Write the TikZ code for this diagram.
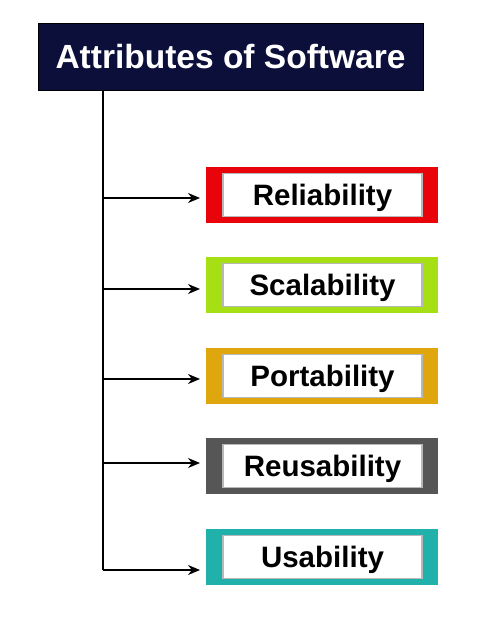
\documentclass[tikz,border=0pt]{standalone}
\usepackage{fontspec}
\setmainfont{Liberation Sans}
\usetikzlibrary{arrows.meta,calc}
\definecolor{navy}{HTML}{0C0F3A}
\definecolor{cred}{HTML}{E8040A}
\definecolor{cgreen}{HTML}{A6E014}
\definecolor{corange}{HTML}{E0A60E}
\definecolor{cgray}{HTML}{565656}
\definecolor{cteal}{HTML}{20B2AA}
\tikzset{
  title/.style={fill=navy, draw=black, line width=0.6pt, minimum width=385pt, minimum height=67pt,
    inner sep=0pt, text=white, text height=24pt, text depth=0pt, font=\bfseries\fontsize{33.5}{38}\selectfont},
  outerbox/.style={minimum width=232pt, minimum height=56pt, inner sep=0pt},
  innerbox/.style={fill=white, draw=black!28, line width=1.6pt, minimum width=199pt, minimum height=43pt,
    inner sep=0pt, text height=21pt, text depth=0pt, font=\bfseries\fontsize{29.5}{34}\selectfont},
  conn/.style={line width=1.3pt, -{Stealth[length=12pt,width=10pt]}},
  trunk/.style={line width=1.3pt}
}
\begin{document}
\begin{tikzpicture}[x=1pt,y=-1pt]
\useasboundingbox (0,0) rectangle (500,626);
\node[title] (t) at (230.5,56.5) {Attributes of Software};
\foreach \n/\c/\y/\txt in {1/cred/195/Reliability,2/cgreen/285/Scalability,3/corange/376/Portability,4/cgray/466/Reusability,5/cteal/557/Usability}{
  \node[outerbox, fill=\c] (o\n) at (322,\y) {};
  \node[innerbox] (i\n) at (322.5,\y) {\txt};
}
\coordinate (top) at (103,90);
\coordinate (b1) at (103,198);
\coordinate (b2) at (103,289);
\coordinate (b3) at (103,379);
\coordinate (b4) at (103,463);
\coordinate (b5) at (103,570);
\coordinate (e1) at (200,198);
\coordinate (e2) at (200,289);
\coordinate (e3) at (200,379);
\coordinate (e4) at (200,463);
\coordinate (e5) at (200,570);
\draw[trunk] (top) -- (b5);
\foreach \n in {1,...,5}{\draw[conn] (b\n) -- (e\n);}
\end{tikzpicture}
\end{document}
